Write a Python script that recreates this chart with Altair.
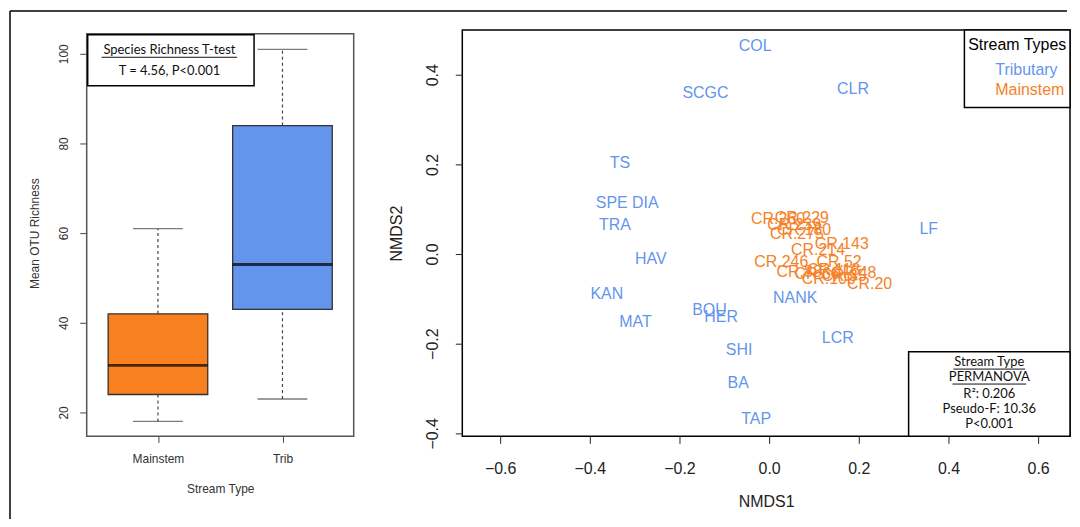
import altair as alt
import pandas as pd

# ---------------- data: left panel (boxplot summary) ----------------
groups = ["Mainstem", "Trib"]
whisker_low = [18, 23]
quart1 = [24, 43]
medians = [30.5, 53]
quart3 = [42, 84]
whisker_high = [61, 101]

# ---------------- data: right panel (NMDS site scores) ----------------
trib_sites = ["COL", "SCGC", "CLR", "TS", "SPE", "DIA", "TRA", "HAV", "KAN", "MAT",
              "BOU", "HER", "SHI", "BA", "TAP", "NANK", "LCR", "LF"]
trib_x = [-0.031, -0.142, 0.187, -0.333, -0.351, -0.276, -0.344, -0.264, -0.362, -0.298,
          -0.133, -0.107, -0.067, -0.069, -0.029, 0.058, 0.153, 0.356]
trib_y = [0.464, 0.360, 0.367, 0.202, 0.113, 0.113, 0.064, -0.011, -0.089, -0.151,
          -0.124, -0.140, -0.213, -0.287, -0.369, -0.098, -0.187, 0.056]

main_sites = ["CR.260", "CR.229", "CR.239", "CR.180", "CR.275", "CR.143", "CR.214", "CR.246",
              "CR.52", "CR.88", "CR.66", "CR.118", "CR.48", "CR.20", "CR.100", "CR.35"]
main_x = [0.020, 0.073, 0.056, 0.078, 0.062, 0.162, 0.109, 0.027,
          0.156, 0.067, 0.107, 0.144, 0.189, 0.224, 0.133, 0.167]
main_y = [0.078, 0.080, 0.064, 0.053, 0.044, 0.022, 0.009, -0.018,
          -0.018, -0.040, -0.044, -0.036, -0.042, -0.067, -0.056, -0.049]

type_names = ["Tributary", "Mainstem"]

BLUE = "#6495ED"
ORANGE_BOX = "#F8801F"
ORANGE_TXT = "#F58228"
SANS = "Liberation Sans"
NOTE = "Lato"

box_df = pd.DataFrame(dict(group=groups, lo=whisker_low, q1=quart1, med=medians,
                           q3=quart3, hi=whisker_high))
nmds_df = pd.DataFrame({
    "site": trib_sites + main_sites,
    "x": trib_x + main_x,
    "y": trib_y + main_y,
    "type": [type_names[0]] * len(trib_sites) + [type_names[1]] * len(main_sites),
})
one = pd.DataFrame({"k": [0]})

LW, LH = 268, 408
RW, RH = 610, 408

# ---------------- left panel ----------------
xax = alt.Axis(title="Stream Type", labelAngle=0, tickSize=6, labelPadding=11, titlePadding=19,
               labelFontSize=12, titleFontSize=12, labelColor="#333", titleColor="#333",
               tickColor="#444", domain=False, titleFontWeight="normal")
xg = alt.X("group:N", sort=groups, scale=alt.Scale(type="point", padding=0.572), axis=xax)
yscale = alt.Scale(domain=[14.667, 105.333], nice=False, zero=False)
yax = alt.Axis(title="Mean OTU Richness", values=[20, 40, 60, 80, 100], labelAngle=270,
               labelAlign="center", labelBaseline="bottom", tickSize=7, labelPadding=9,
               titlePadding=16, labelFontSize=12, titleFontSize=12, labelColor="#333",
               titleColor="#333", tickColor="#444", domain=False, titleFontWeight="normal")


def Yl(field):
    return alt.Y(field, scale=yscale, axis=yax)


base = alt.Chart(box_df)
wlo = base.mark_rule(strokeDash=[3, 3], color="#444", strokeWidth=1.2).encode(x=xg, y=Yl("lo:Q"), y2="q1:Q")
whi = base.mark_rule(strokeDash=[3, 3], color="#444", strokeWidth=1.2).encode(x=xg, y=Yl("q3:Q"), y2="hi:Q")
cap_lo = base.mark_tick(size=50, thickness=1.3, color="#444").encode(x=xg, y=Yl("lo:Q"))
cap_hi = base.mark_tick(size=50, thickness=1.3, color="#444").encode(x=xg, y=Yl("hi:Q"))
boxes = base.mark_bar(size=100, stroke="#333", strokeWidth=1.3).encode(
    x=xg, y=Yl("q1:Q"), y2="q3:Q",
    color=alt.Color("group:N", scale=alt.Scale(domain=groups, range=[ORANGE_BOX, BLUE]), legend=None))
med = base.mark_tick(size=100, thickness=3, color="black").encode(x=xg, y=Yl("med:Q"))

ann = alt.Chart(one)
lframe = ann.mark_rect(fill="transparent", stroke="#555", strokeWidth=1.5).encode(
    x=alt.value(0), x2=alt.value(LW), y=alt.value(4), y2=alt.value(LH))
tbox = ann.mark_rect(fill="white", stroke="black", strokeWidth=1.5).encode(
    x=alt.value(1), x2=alt.value(168), y=alt.value(5), y2=alt.value(56))
t1 = ann.mark_text(text="Species Richness T-test", font=NOTE, fontSize=13, color="#111").encode(
    x=alt.value(83), y=alt.value(20))
t1u = ann.mark_rule(color="#111", strokeWidth=1).encode(x=alt.value(15), x2=alt.value(151), y=alt.value(27.5))
t2 = ann.mark_text(text="T = 4.56,  P<0.001", font=NOTE, fontSize=13, color="#111").encode(
    x=alt.value(83), y=alt.value(41))

# outer figure frame (top and left lines)
frame_top = ann.mark_rule(color="black", strokeWidth=1.5).encode(
    x=alt.value(-77), x2=alt.value(984), y=alt.value(-19))
frame_left = ann.mark_rule(color="black", strokeWidth=1.5).encode(
    x=alt.value(-77), y=alt.value(-19), y2=alt.value(491))

left = alt.layer(wlo, whi, cap_lo, cap_hi, boxes, med, lframe, tbox, t1, t1u, t2,
                 frame_top, frame_left).properties(
    width=LW, height=LH, view=alt.ViewBackground(stroke="transparent"))

# ---------------- right panel ----------------
xr = alt.X("x:Q", scale=alt.Scale(domain=[-0.6844, 0.6711], nice=False, zero=False),
           axis=alt.Axis(title="NMDS1", values=[-0.6, -0.4, -0.2, 0, 0.2, 0.4, 0.6], format=".1f",
                         tickSize=7, labelPadding=17, titlePadding=17, labelFontSize=16,
                         titleFontSize=16, domain=False, labelFlush=False, labelOverlap=False,
                         labelColor="#222", titleColor="#222", tickColor="#222",
                         titleFontWeight="normal"))
yr = alt.Y("y:Q", scale=alt.Scale(domain=[-0.4067, 0.5], nice=False, zero=False),
           axis=alt.Axis(title="NMDS2", values=[-0.4, -0.2, 0, 0.2, 0.4], format=".1f",
                         labelAngle=270, labelAlign="center", labelBaseline="bottom",
                         tickSize=7, labelPadding=15, titlePadding=20, labelFontSize=16,
                         titleFontSize=16, domain=False, labelFlush=False, labelOverlap=False,
                         labelColor="#222", titleColor="#222", tickColor="#222",
                         titleFontWeight="normal"))

pts = alt.Chart(nmds_df).mark_text(fontSize=16, font=SANS).encode(
    x=xr, y=yr, text="site:N",
    color=alt.Color("type:N", scale=alt.Scale(domain=type_names, range=[BLUE, ORANGE_TXT]), legend=None))

lg_box = ann.mark_rect(fill="white", stroke="black", strokeWidth=1.5).encode(
    x=alt.value(504), x2=alt.value(RW), y=alt.value(0), y2=alt.value(78))
lg_t = ann.mark_text(text="Stream Types", font=SANS, fontSize=16, color="black").encode(
    x=alt.value(557), y=alt.value(15))
lg_1 = ann.mark_text(text="Tributary", font=SANS, fontSize=16, color=BLUE, align="left").encode(
    x=alt.value(535), y=alt.value(40))
lg_2 = ann.mark_text(text="Mainstem", font=SANS, fontSize=16, color=ORANGE_TXT, align="left").encode(
    x=alt.value(535), y=alt.value(60))

pm_box = ann.mark_rect(fill="white", stroke="black", strokeWidth=1.5).encode(
    x=alt.value(448), x2=alt.value(RW), y=alt.value(RH - 85), y2=alt.value(RH))
pm_lines = ["Stream Type", "PERMANOVA", "R\u00b2: 0.206", "Pseudo-F: 10.36", "P<0.001"]
pm_offsets = [75, 60, 43, 27, 12]
pm_layers = [ann.mark_text(text=s, font=NOTE, fontSize=13, color="#111").encode(
    x=alt.value(529), y=alt.value(RH - o)) for s, o in zip(pm_lines, pm_offsets)]
pm_u1 = ann.mark_rule(color="#111", strokeWidth=1).encode(
    x=alt.value(493), x2=alt.value(565), y=alt.value(RH - 67.5))
pm_u2 = ann.mark_rule(color="#111", strokeWidth=1).encode(
    x=alt.value(492), x2=alt.value(566), y=alt.value(RH - 52.5))

right = alt.layer(pts, lg_box, lg_t, lg_1, lg_2, pm_box, *pm_layers, pm_u1, pm_u2).properties(
    width=RW, height=RH, view=alt.ViewBackground(stroke="black", strokeWidth=1.5))

chart = alt.hconcat(left, right, spacing=109, bounds="flush").resolve_scale(
    color="independent"
).properties(
    padding=0
).configure_axis(grid=False, labelFont=SANS, titleFont=SANS).configure_text(font=SANS)

chart.save("out.html", embed_options={"renderer": "svg", "actions": False})
